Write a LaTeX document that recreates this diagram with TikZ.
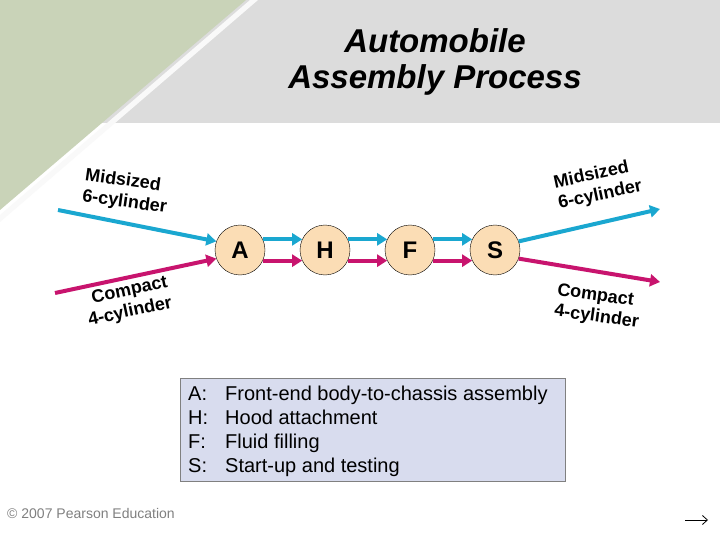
\documentclass[tikz,border=0pt]{standalone}
\usepackage{fontspec}
\setmainfont{Liberation Sans}
\usetikzlibrary{arrows.meta}
\definecolor{cy}{HTML}{1AA7D0}
\definecolor{pk}{HTML}{C8146E}
\definecolor{peach}{HTML}{FBDDB5}
\definecolor{leg}{HTML}{D8DCEE}
\definecolor{grn}{HTML}{C9D3B8}
\definecolor{gry}{HTML}{DCDCDC}
\begin{document}
\begin{tikzpicture}[x=1pt,y=-1pt,
  st/.style={circle,draw=black,fill=peach,minimum size=50pt,inner sep=0pt,font=\fontsize{24}{24}\selectfont\bfseries},
  ca/.style={cy,line width=4pt,-{Triangle[length=10pt,width=12pt]}},
  pa/.style={pk,line width=4pt,-{Triangle[length=10pt,width=12pt]}},
  lb/.style={font=\fontsize{18}{21}\selectfont\bfseries,align=left,inner sep=0pt},
  lt/.style={font=\fontsize{20}{22}\selectfont,anchor=base west,inner sep=0pt}]
\useasboundingbox (0,0) rectangle (720,540);
\fill[gry] (0,0) rectangle (720,123);
\fill[white] (0,123) rectangle (720,540);
\fill[white!95!gray] (0,222) -- (258,0) -- (250,0) -- (0,215) -- cycle;
\fill[grn] (0,0) -- (246,0) -- (0,210) -- cycle;
\node[font=\fontsize{33}{36}\selectfont\bfseries\itshape,align=center] (title) at (435,62) {Automobile\\Assembly Process};
\node[st] (A) at (240,250) {A};
\node[st] (H) at (325,250) {H};
\node[st] (F) at (410,250) {F};
\node[st] (S) at (495,250) {S};
\coordinate (li1) at (58,210);
\coordinate (li2) at (55,293);
\coordinate (ro1) at (660,209);
\coordinate (ro2) at (660,282);
\draw[ca] (li1) -- (A.160);
\draw[pa] (li2) -- (A.200);
\foreach \a/\b in {A/H,H/F,F/S}{
  \draw[ca] (\a.25) -- (\b.155);
  \draw[pa] (\a.-25) -- (\b.-155);
}
\draw[ca] (S.20) -- (ro1);
\draw[pa] (S.-20) -- (ro2);
\node[lb,rotate=-8] (l1) at (126,192) {Midsized\\6-cylinder};
\node[lb,rotate=12] (l2) at (128,302) {\hspace*{8pt}Compact\\4-cylinder};
\node[lb,rotate=12] (l3) at (598,185) {Midsized\\6-cylinder};
\node[lb,rotate=-8] (l4) at (598,307) {Compact\\4-cylinder};
\node[draw=gray,fill=leg,minimum width=385pt,minimum height=103pt,inner sep=0pt] (box) at (372.5,429.5) {};
\foreach \y/\k/\t in {400/A:/Front-end body-to-chassis assembly,424/H:/Hood attachment,448/F:/Fluid filling,472/S:/Start-up and testing}{
  \node[lt] at (188,\y) {\k};
  \node[lt] at (225,\y) {\t};
}
\node[font=\fontsize{14}{16}\selectfont,text=gray] (copy) at (91,513) {© 2007 Pearson Education};
\coordinate (n1) at (685,520);
\coordinate (n2) at (708,520);
\draw[line width=0.8pt,-{Straight Barb[length=5pt,width=9pt]}] (n1) -- (n2);
\end{tikzpicture}
\end{document}
